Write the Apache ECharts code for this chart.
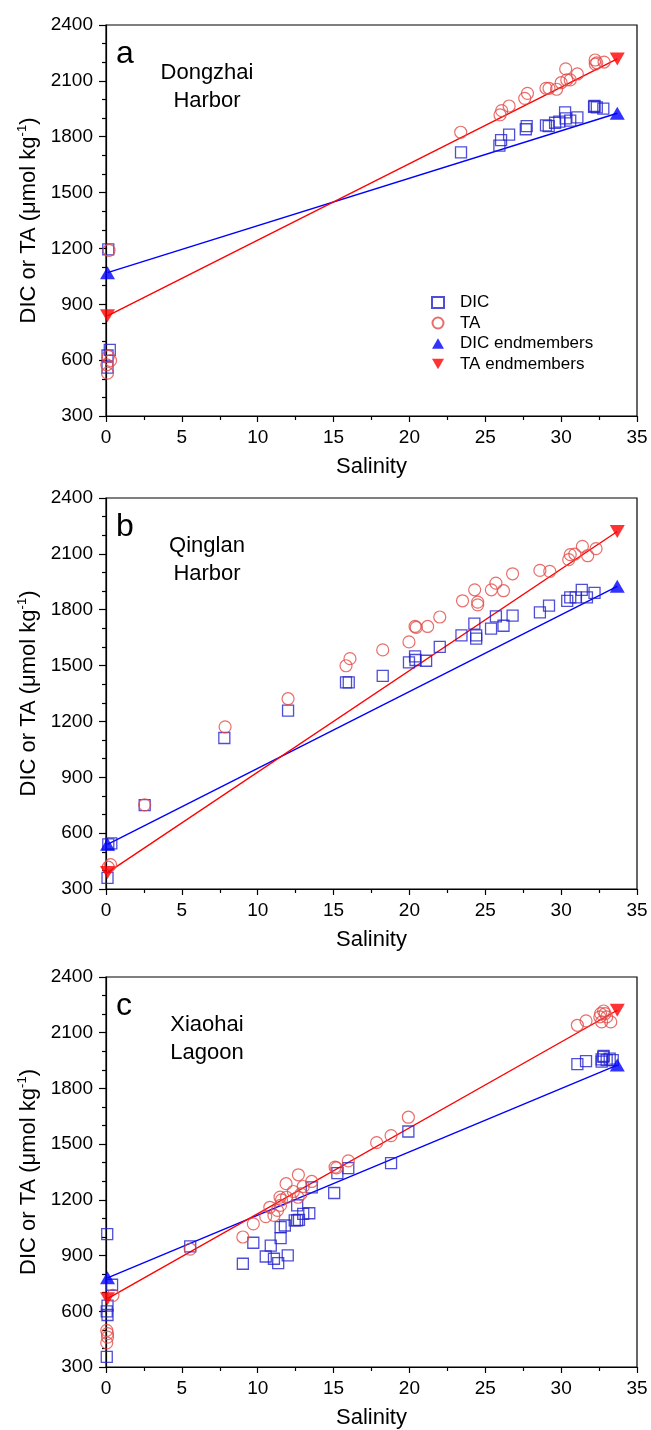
<!DOCTYPE html>
<html><head><meta charset="utf-8">
<script src="https://cdn.jsdelivr.net/npm/echarts@6/dist/echarts.min.js"></script>
<style>html,body{margin:0;padding:0;background:#fff}#c{width:651px;height:1430px}</style>
</head><body><div id="c"></div>
<script>
// ---------- data (salinity, µmol/kg) ----------
const panelLetters = ['a', 'b', 'c'];
const siteNames = ['Dongzhai\nHarbor', 'Qinglan\nHarbor', 'Xiaohai\nLagoon'];
const xTicks = [0, 5, 10, 15, 20, 25, 30, 35];
const yTicks = [300, 600, 900, 1200, 1500, 1800, 2100, 2400];

const dicA = [[0.15,1195],[0.25,655],[0.1,625],[0.1,560],[23.4,1716],[25.93,1752],[26.04,1782],[26.57,1811],[27.67,1840],[27.73,1857],[29.0,1861],[29.18,1857],[29.6,1875],[29.88,1881],[30.26,1931],[30.3,1899],[30.6,1886],[31.07,1904],[32.17,1961],[32.2,1965],[32.35,1958],[32.78,1951]];
const taA = [[0.2,1190],[0.15,620],[0.3,598],[0.05,575],[0.1,530],[23.38,1824],[25.97,1917],[26.08,1940],[26.57,1965],[27.6,2006],[27.78,2033],[29.0,2060],[29.2,2060],[29.7,2055],[30.0,2090],[30.3,2164],[30.37,2105],[30.6,2105],[31.07,2137],[32.24,2212],[32.25,2190],[32.35,2197],[32.83,2201]];
const dicEndA = [[0.1,1070],[33.7,1926]];
const taEndA = [[0.1,838],[33.7,2218]];

const dicB = [[0.1,360],[0.15,540],[0.35,545],[2.55,750],[7.8,1111],[12.0,1258],[15.82,1410],[16.0,1410],[18.24,1445],[19.97,1517],[20.37,1549],[20.4,1530],[21.1,1526],[22.0,1600],[23.43,1662],[24.28,1725],[24.4,1662],[24.4,1645],[25.38,1698],[25.7,1764],[26.2,1714],[26.8,1768],[28.6,1786],[29.2,1822],[30.4,1848],[30.6,1866],[30.96,1866],[31.36,1907],[31.7,1866],[32.2,1890]];
const taB = [[0.15,417],[0.3,431],[2.55,752],[7.85,1171],[12.0,1322],[15.82,1499],[16.08,1537],[18.24,1584],[19.97,1627],[20.37,1710],[20.45,1705],[21.2,1710],[22.0,1761],[23.5,1848],[24.3,1907],[24.5,1841],[24.5,1826],[25.4,1907],[25.7,1943],[26.2,1902],[26.8,1993],[28.6,2011],[29.25,2006],[30.5,2069],[30.6,2096],[30.9,2099],[31.4,2140],[31.75,2090],[32.3,2128]];
const dicEndB = [[0.1,540],[33.7,1926]];
const taEndB = [[0.1,388],[33.7,2220]];

const dicC = [[0.08,1015],[0.4,743],[0.1,630],[0.05,600],[0.1,580],[0.05,355],[5.55,949],[9.02,856],[9.71,969],[10.53,895],[10.86,954],[11.07,883],[11.35,859],[11.51,994],[11.51,1053],[11.79,1062],[11.98,901],[12.44,1089],[12.6,1089],[12.72,1092],[12.6,1170],[13.0,1125],[13.4,1128],[13.56,1267],[15.04,1237],[15.25,1344],[15.97,1371],[18.79,1398],[19.93,1568],[31.07,1931],[31.64,1947],[32.67,1956],[32.78,1970],[32.8,1975],[33.0,1952],[33.4,1952],[32.67,1944],[33.2,1960]];
const taC = [[0.46,686],[0.05,497],[0.1,480],[0.1,461],[0.05,430],[5.55,935],[9.02,1000],[9.71,1071],[10.53,1110],[10.8,1160],[11.07,1116],[11.3,1143],[11.5,1170],[11.57,1200],[11.47,1215],[11.87,1287],[11.9,1214],[12.35,1245],[12.66,1214],[12.68,1335],[12.85,1232],[13.0,1272],[13.56,1299],[15.1,1376],[15.2,1372],[15.97,1410],[17.84,1508],[18.79,1546],[19.93,1645],[31.07,2140],[31.64,2164],[32.6,2203],[32.8,2217],[32.9,2203],[32.67,2158],[33.27,2158],[33.0,2185],[32.55,2185]];
const dicEndC = [[0.1,780],[33.7,1926]];
const taEndC = [[0.1,668],[33.7,2221]];

const panels = [
  {dic: dicA, ta: taA, dicEnd: dicEndA, taEnd: taEndA},
  {dic: dicB, ta: taB, dicEnd: dicEndB, taEnd: taEndB},
  {dic: dicC, ta: taC, dicEnd: dicEndC, taEnd: taEndC}
];

// ---------- layout ----------
const FONT = '"Liberation Sans", Arial, sans-serif';
const gridTops = [25, 498, 977];
const GRID_H = 391, GRID_L = 106, GRID_W = 531;
const BLUE = '#0000ff', RED = '#ff0000', SQ = '#2222cc', CIR = '#e34a46';
const UP_TRI = 'path://M5,0 L10,8.66 L0,8.66 Z';
const DOWN_TRI = 'path://M0,0 L10,0 L5,8.66 Z';

const grids = [], xAxes = [], yAxes = [], series = [], graphics = [];
panels.forEach((p, i) => {
  grids.push({left: GRID_L, top: gridTops[i], width: GRID_W, height: GRID_H,
    show: true, borderColor: '#000', borderWidth: 1.2, backgroundColor: 'transparent'});
  xAxes.push({gridIndex: i, type: 'value', min: xTicks[0], max: xTicks[xTicks.length-1], interval: 5,
    axisLine: {onZero: false, lineStyle: {color: '#000', width: 1.2}},
    axisTick: {length: 6, lineStyle: {color: '#000', width: 1.2}},
    minorTick: {show: true, splitNumber: 2, length: 4, lineStyle: {color: '#000', width: 1.2}},
    splitLine: {show: false},
    axisLabel: {fontSize: 19, color: '#000', margin: 12, fontFamily: FONT, formatter: v => String(v)},
    name: 'Salinity', nameLocation: 'middle', nameGap: 40,
    nameTextStyle: {fontSize: 22, color: '#000', fontFamily: FONT}});
  yAxes.push({gridIndex: i, type: 'value', min: yTicks[0], max: yTicks[yTicks.length-1], interval: 300,
    axisLine: {lineStyle: {color: '#000', width: 1.2}},
    axisTick: {length: 7, lineStyle: {color: '#000', width: 1.2}},
    minorTick: {show: true, splitNumber: 3, length: 4, lineStyle: {color: '#000', width: 1.2}},
    splitLine: {show: false},
    axisLabel: {fontSize: 19, color: '#000', margin: 13, fontFamily: FONT, formatter: v => String(v)},
    name: 'DIC or TA (\u03bcmol kg{sup|-1})', nameLocation: 'middle', nameGap: 64,
    nameTextStyle: {fontSize: 22, color: '#000', fontFamily: FONT,
      rich: {sup: {fontSize: 13, fontFamily: FONT, color: '#000', padding: [0, 0, 12, 0]}}}});
  series.push({type: 'line', xAxisIndex: i, yAxisIndex: i, data: p.dicEnd, symbol: 'none', silent: true,
    lineStyle: {color: BLUE, width: 1.4}, z: 1});
  series.push({type: 'line', xAxisIndex: i, yAxisIndex: i, data: p.taEnd, symbol: 'none', silent: true,
    lineStyle: {color: RED, width: 1.4}, z: 1});
  series.push({name: 'DIC', type: 'scatter', xAxisIndex: i, yAxisIndex: i, data: p.dic, symbol: 'rect', symbolSize: 11,
    itemStyle: {color: 'rgba(0,0,0,0)', borderColor: SQ, borderWidth: 1.3}, z: 3});
  series.push({name: 'TA', type: 'scatter', xAxisIndex: i, yAxisIndex: i, data: p.ta, symbol: 'circle', symbolSize: 12,
    itemStyle: {color: 'rgba(0,0,0,0)', borderColor: CIR, borderWidth: 1.2}, z: 3});
  series.push({name: 'DIC endmembers', type: 'scatter', xAxisIndex: i, yAxisIndex: i, data: p.dicEnd, symbol: UP_TRI, symbolSize: [15, 13],
    itemStyle: {color: BLUE}, z: 4});
  series.push({name: 'TA endmembers', type: 'scatter', xAxisIndex: i, yAxisIndex: i, data: p.taEnd, symbol: DOWN_TRI, symbolSize: [15, 13],
    itemStyle: {color: RED}, z: 4});
  graphics.push({type: 'text', left: 116, top: gridTops[i] + 13,
    style: {text: panelLetters[i], font: '32px ' + FONT, fill: '#000'}});
  graphics.push({type: 'text', x: 207, y: gridTops[i] + 62,
    style: {text: siteNames[i], font: '22px ' + FONT, fill: '#000', align: 'center', verticalAlign: 'middle', lineHeight: 28}});
});

const chart = echarts.init(document.getElementById('c'), null, {renderer: 'canvas'});
chart.setOption({
  animation: false,
  backgroundColor: '#fff',
  textStyle: {fontFamily: FONT},
  grid: grids, xAxis: xAxes, yAxis: yAxes, series: series, graphic: graphics,
  legend: {data: ['DIC', 'TA', 'DIC endmembers', 'TA endmembers'], orient: 'vertical',
    left: 426, top: 289, itemWidth: 12, itemHeight: 11, itemGap: 3.5,
    textStyle: {fontSize: 17, color: '#000', fontFamily: FONT, padding: [0, 0, 0, 11]}, selectedMode: false}
});
</script></body></html>
